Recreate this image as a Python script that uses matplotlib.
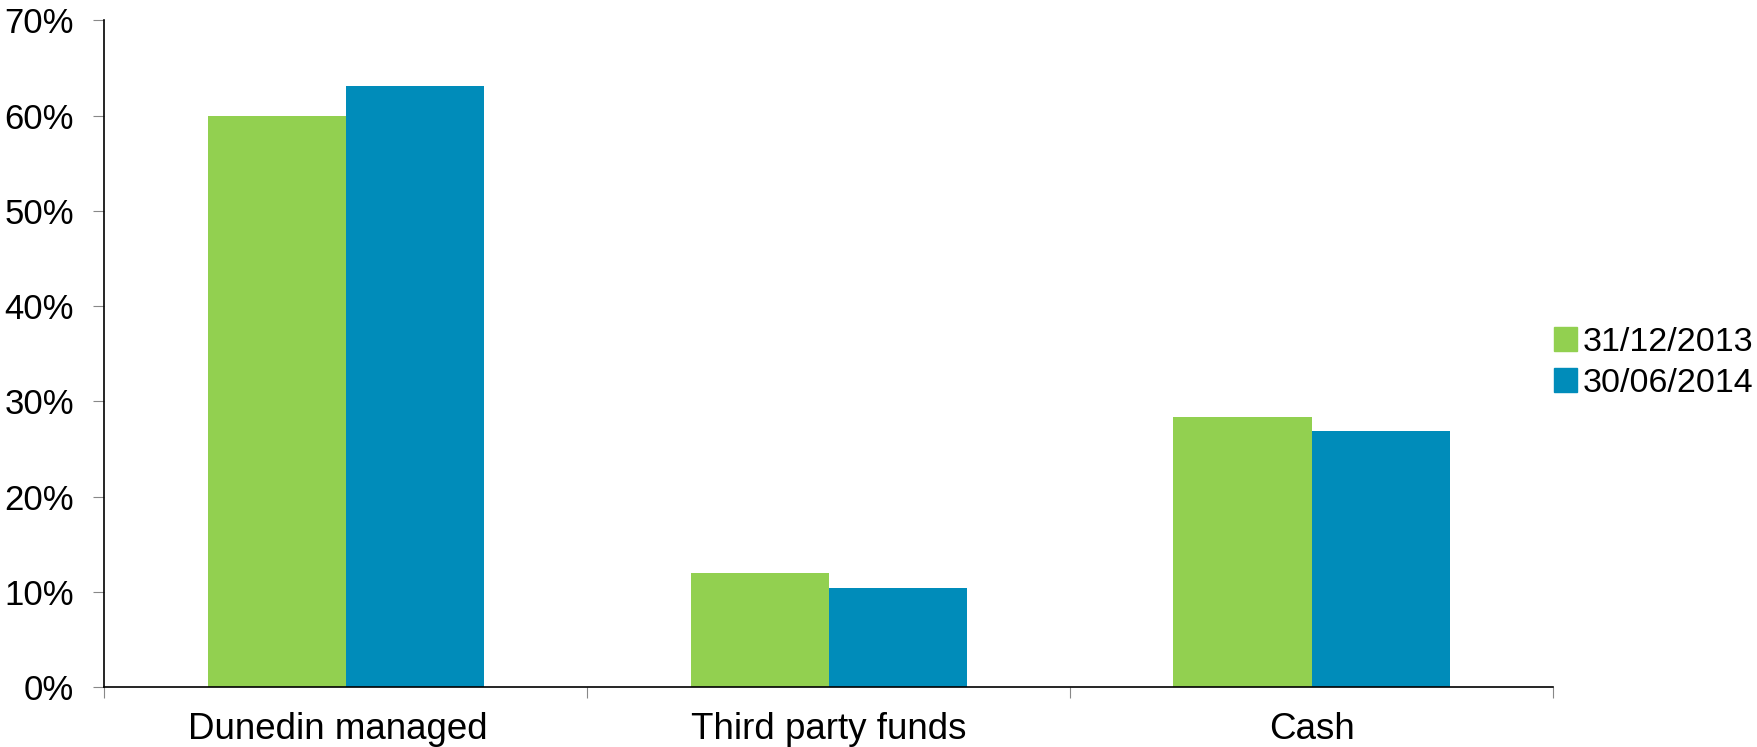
import numpy as np
import matplotlib
matplotlib.use("Agg")
import matplotlib.pyplot as plt
import matplotlib.transforms as mtransforms
from matplotlib.patches import Patch

plt.rcParams['font.family'] = ['Liberation Sans', 'DejaVu Sans']

categories = ['Dunedin managed', 'Third party funds', 'Cash']
series_names = ['31/12/2013', '30/06/2014']
values_2013 = [60.0, 12.0, 28.4]
values_2014 = [63.1, 10.4, 26.9]
yticks = [0, 10, 20, 30, 40, 50, 60, 70]

green = '#92D050'
blue = '#008CBA'

fig = plt.figure(figsize=(17.58, 7.47), dpi=100)
ax = fig.add_axes([0.0594, 0.0799, 0.824, 0.8929])

x = np.arange(len(categories))
w = 0.286
ax.bar(x - w / 2, values_2013, width=w, color=green, label=series_names[0])
ax.bar(x + w / 2, values_2014, width=w, color=blue, label=series_names[1])

ax.set_xlim(-0.5, len(categories) - 0.5)
ax.set_ylim(0, 70)
ax.set_yticks(yticks)
ax.set_yticklabels([f'{v}%' for v in yticks], fontsize=25)

# category boundaries carry the tick marks, centres carry the labels
ax.set_xticks(np.arange(len(categories) + 1) - 0.5)
ax.set_xticklabels([])
ax.set_xticks(x, minor=True)
ax.set_xticklabels(categories, minor=True, fontsize=26.5)
ax.tick_params(axis='x', which='minor', length=0, pad=18)
ax.tick_params(axis='x', which='major', length=8, color='#888888', direction='out')
ax.tick_params(axis='y', length=8, color='#888888', pad=14)

# first label sits a touch left of its category centre
first = ax.get_xticklabels(minor=True)[0]
first.set_transform(first.get_transform() + mtransforms.ScaledTranslation(-0.08, 0, fig.dpi_scale_trans))

for s in ['top', 'right']:
    ax.spines[s].set_visible(False)
ax.spines['left'].set_linewidth(1.2)
ax.spines['bottom'].set_linewidth(1.2)

handles = [Patch(color=green), Patch(color=blue)]
fig.legend(handles, series_names, loc='center left', bbox_to_anchor=(0.876, 0.514),
           frameon=False, fontsize=24.5, handlelength=0.7, handleheight=0.7,
           handletextpad=0.15, labelspacing=0.3, borderaxespad=0)

fig.savefig('out.png', dpi=100)
